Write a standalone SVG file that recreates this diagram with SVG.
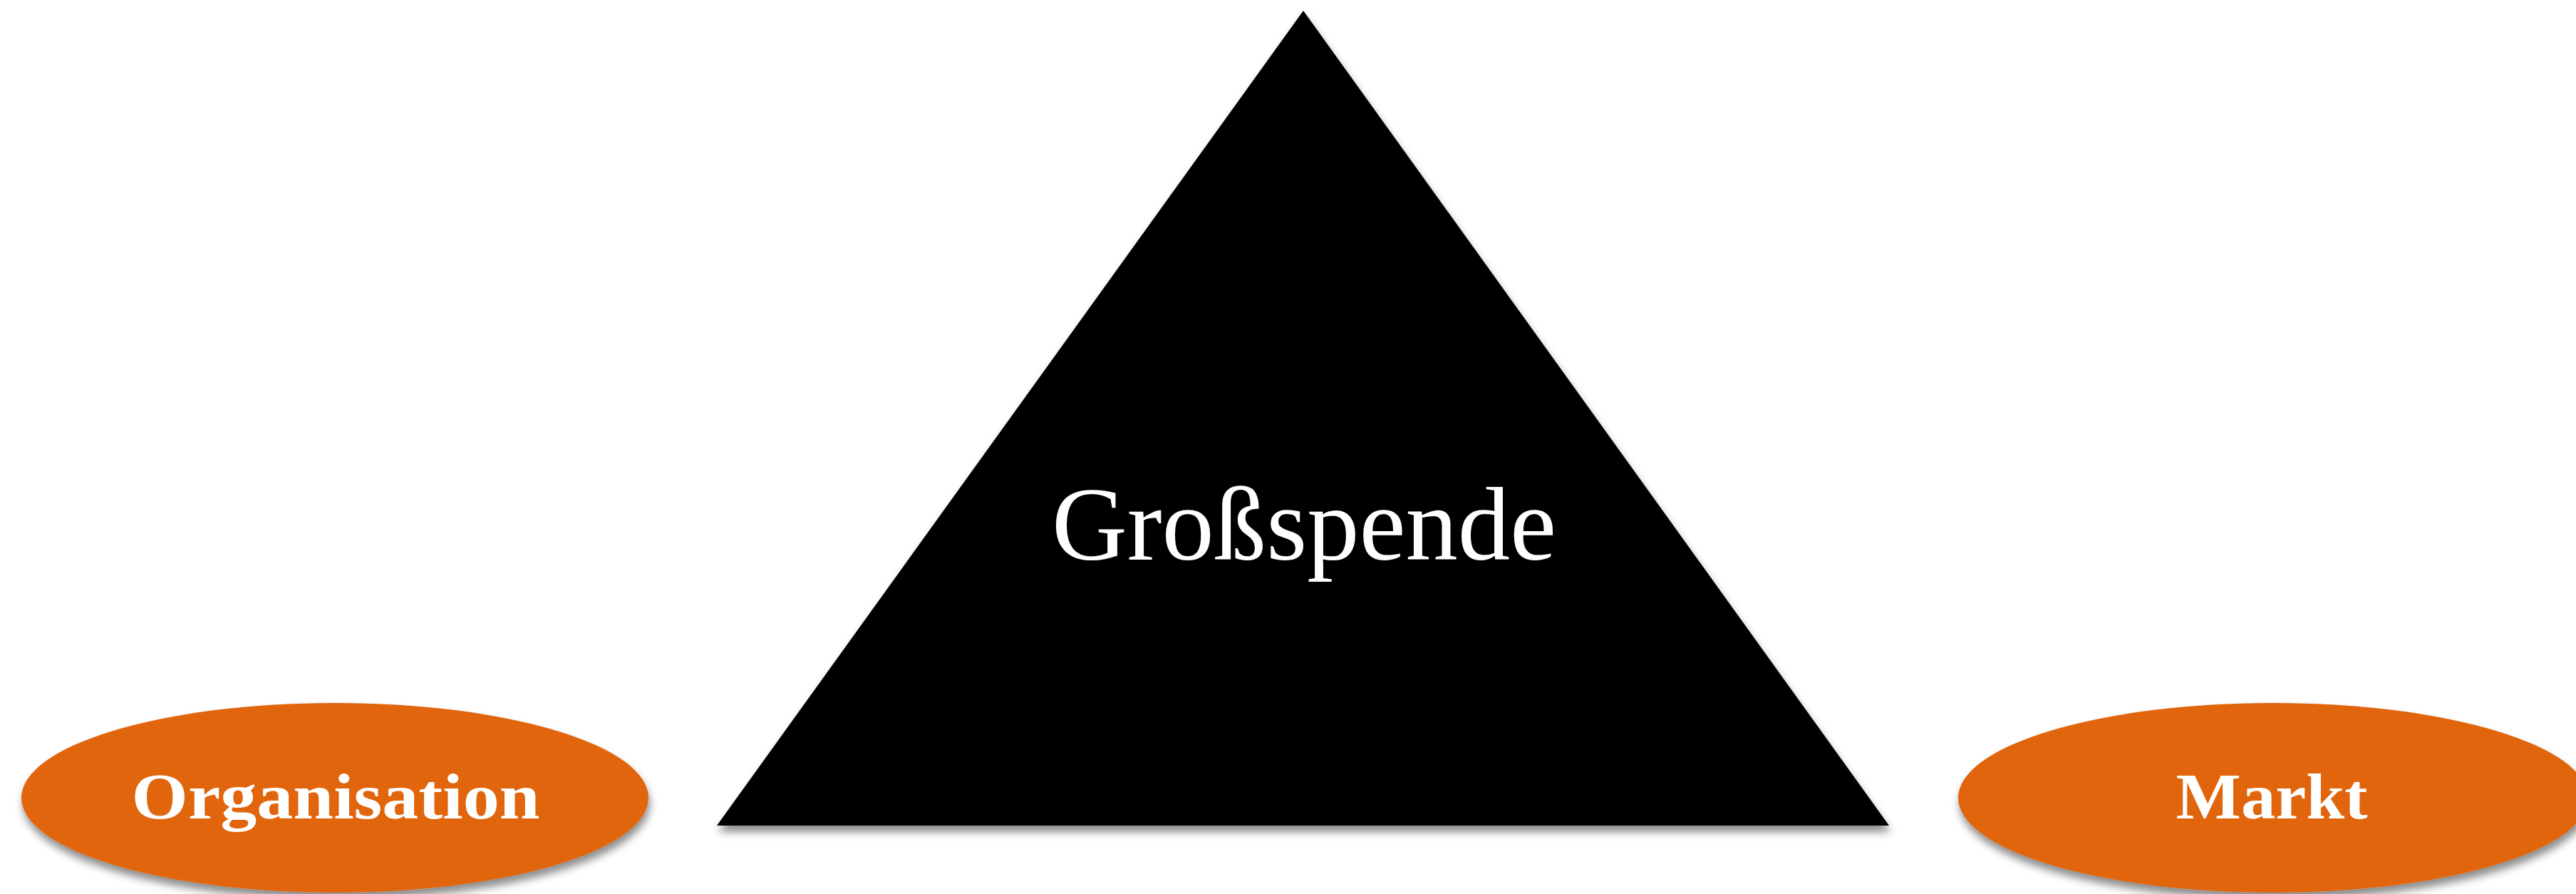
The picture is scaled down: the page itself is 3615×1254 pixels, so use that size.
<svg xmlns="http://www.w3.org/2000/svg" width="3615" height="1254" viewBox="0 0 3615 1254">
  <defs>
    <filter id="shadow" x="-10%" y="-10%" width="120%" height="130%">
      <feDropShadow dx="2" dy="9" stdDeviation="6" flood-color="#000" flood-opacity="0.45"/>
    </filter>
  </defs>
  <style>
    .ell { fill: #E0650F; filter: url(#shadow); }
    .lbl { font-family: "Liberation Serif", "DejaVu Serif", serif; font-weight: bold; fill: #fff; text-anchor: middle; }
    .tri { fill: #000; filter: url(#shadow); }
    .tlbl { font-family: "Liberation Serif", "DejaVu Serif", serif; fill: #fff; text-anchor: middle; }
  </style>
  <rect width="3615" height="1254" fill="#fff"/>
  <g id="grossspende">
    <polygon class="tri" points="1829,15 2651,1158 1006,1158"/>
    <text class="tlbl" x="1830" y="785" font-size="146" textLength="708" lengthAdjust="spacingAndGlyphs">Großspende</text>
  </g>
  <g id="organisation">
    <ellipse class="ell" cx="470" cy="1119" rx="440" ry="133"/>
    <text class="lbl" x="471" y="1148" font-size="92" textLength="573" lengthAdjust="spacingAndGlyphs">Organisation</text>
  </g>
  <g id="markt">
    <ellipse class="ell" cx="3190" cy="1119" rx="442" ry="133"/>
    <text class="lbl" x="3188" y="1148" font-size="92" textLength="269" lengthAdjust="spacingAndGlyphs">Markt</text>
  </g>
  <g id="connectors"/>
</svg>
